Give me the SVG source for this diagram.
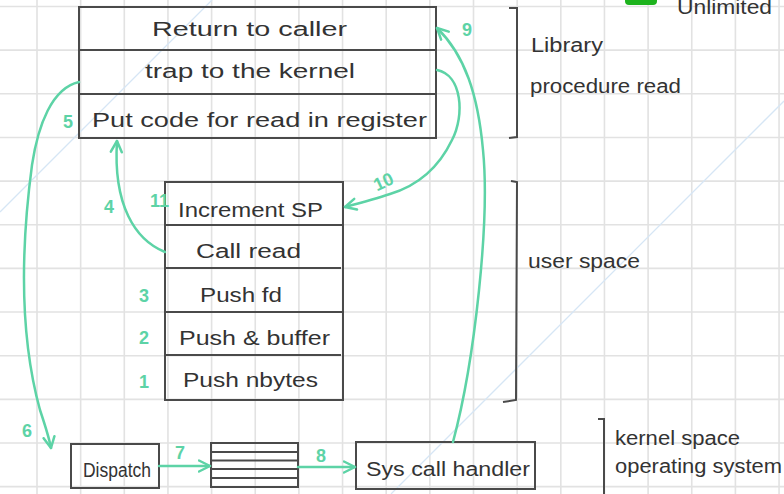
<svg xmlns="http://www.w3.org/2000/svg" width="784" height="494" viewBox="0 0 784 494">
<defs>
<style>
.grid{stroke:#e2e2e2;stroke-width:1.6;fill:none}
.wm{stroke:#d6e6f5;stroke-width:1.3;fill:none}
.box{fill:none;stroke:#4a4a4a;stroke-width:2}
.t{font-family:"Liberation Sans","DejaVu Sans",sans-serif;font-size:20px;fill:#333}
.n{font-family:"Liberation Sans","DejaVu Sans",sans-serif;font-size:18px;font-weight:bold;fill:#5dd3a6}
.c{fill:none;stroke:#5dd3a6;stroke-width:2.5;stroke-linecap:round}
</style>
<marker id="ah" viewBox="0 0 14 14" refX="12.5" refY="7" markerWidth="14" markerHeight="14" markerUnits="userSpaceOnUse" orient="auto">
<path d="M1.5,1.5 L12.5,7 L1.5,12.5" fill="none" stroke="#5dd3a6" stroke-width="2.5" stroke-linecap="round" stroke-linejoin="round"/>
</marker>
</defs>
<rect width="784" height="494" fill="#ffffff"/>
<g id="grid">
<path class="grid" d="M37,0V494M80.65,0V494M124.3,0V494M167.95,0V494M211.6,0V494M255.25,0V494M298.9,0V494M342.55,0V494M386.2,0V494M429.85,0V494M473.5,0V494M517.15,0V494M560.8,0V494M604.45,0V494M648.1,0V494M691.75,0V494M735.4,0V494M779.05,0V494"/>
<path class="grid" d="M0,6.5H784M0,50.15H784M0,93.8H784M0,137.45H784M0,181.1H784M0,224.75H784M0,268.4H784M0,312.05H784M0,355.7H784M0,399.35H784M0,443H784M0,486.65H784"/>
<path class="wm" d="M0,212L212,0M391,494L784,101"/>
</g>
<rect x="625" y="-6" width="32" height="11" rx="4" fill="#1db31d"/>
<text class="t" x="677" y="14" font-size="11" textLength="95" lengthAdjust="spacingAndGlyphs">Unlimited</text>
<g id="library">
<rect class="box" x="79" y="7" width="357" height="131"/>
<path class="box" d="M79,50H436M79,94H436"/>
<text class="t" x="152" y="36" textLength="195" lengthAdjust="spacingAndGlyphs">Return to caller</text>
<text class="t" x="145" y="78" textLength="210" lengthAdjust="spacingAndGlyphs">trap to the kernel</text>
<text class="t" x="92" y="127" textLength="335" lengthAdjust="spacingAndGlyphs">Put code for read in register</text>
</g>
<g id="user-stack">
<rect class="box" x="165" y="182" width="178" height="218"/>
<path class="box" d="M165,225H343M165,268H341M165,312H343M165,355H341"/>
<text class="t" x="178" y="217" textLength="145" lengthAdjust="spacingAndGlyphs">Increment SP</text>
<text class="t" x="196" y="258" textLength="105" lengthAdjust="spacingAndGlyphs">Call read</text>
<text class="t" x="200" y="302" textLength="82" lengthAdjust="spacingAndGlyphs">Push fd</text>
<text class="t" x="179" y="345" textLength="151" lengthAdjust="spacingAndGlyphs">Push &amp; buffer</text>
<text class="t" x="183" y="387" textLength="135" lengthAdjust="spacingAndGlyphs">Push nbytes</text>
</g>
<g id="dispatch">
<rect class="box" x="71" y="444" width="88" height="44"/>
<text class="t" x="83" y="477" textLength="68" lengthAdjust="spacingAndGlyphs">Dispatch</text>
</g>
<g id="table">
<rect class="box" x="211" y="443" width="87" height="44"/>
<path class="box" d="M211,452H298M211,460.5H298M211,469H298M211,478H298"/>
</g>
<g id="syscall">
<rect class="box" x="356" y="442" width="179" height="47"/>
<text class="t" x="366" y="476" textLength="164" lengthAdjust="spacingAndGlyphs">Sys call handler</text>
</g>
<g id="brackets">
<path class="box" d="M509,8L517,8L517,137L509,138"/>
<text class="t" x="531" y="52" textLength="72" lengthAdjust="spacingAndGlyphs">Library</text>
<text class="t" x="530" y="93" textLength="151" lengthAdjust="spacingAndGlyphs">procedure read</text>
<path class="box" d="M511,181L517,182L516,400L503,402"/>
<text class="t" x="528" y="268" textLength="112" lengthAdjust="spacingAndGlyphs">user space</text>
<path class="box" d="M598,419L604,419L604,494"/>
<text class="t" x="615" y="445" textLength="125" lengthAdjust="spacingAndGlyphs">kernel space</text>
<text class="t" x="615" y="473" textLength="167" lengthAdjust="spacingAndGlyphs">operating system</text>
</g>
<g id="connectors">
<path class="c" marker-end="url(#ah)" d="M79,82C52,88 38,125 32,165C22,240 18,330 40,410C45,425 49,437 51,448"/>
<path class="c" marker-end="url(#ah)" d="M165,252C135,240 113,205 117,141"/>
<path class="c" marker-end="url(#ah)" d="M437,70C462,75 465,115 452,140C440,165 420,185 390,194C375,199 360,203 345,207"/>
<path class="c" marker-end="url(#ah)" d="M453,442C475,360 490,220 483,150C478,95 465,55 437,28"/>
<path class="c" marker-end="url(#ah)" d="M159,466L210,466"/>
<path class="c" marker-end="url(#ah)" d="M298,467L355,467"/>
</g>
<g id="numbers">
<text class="n" x="63" y="128" font-size="15">5</text>
<text class="n" x="462" y="36" font-size="22">9</text>
<text class="n" x="104" y="213">4</text>
<text class="n" x="150" y="207" font-size="13">11</text>
<text class="n" x="139" y="302">3</text>
<text class="n" x="139" y="344">2</text>
<text class="n" x="139" y="388">1</text>
<text class="n" x="373" y="188" transform="rotate(-25 383 181)">10</text>
<text class="n" x="22" y="437">6</text>
<text class="n" x="175" y="459">7</text>
<text class="n" x="316" y="462" font-size="21">8</text>
</g>
</svg>
